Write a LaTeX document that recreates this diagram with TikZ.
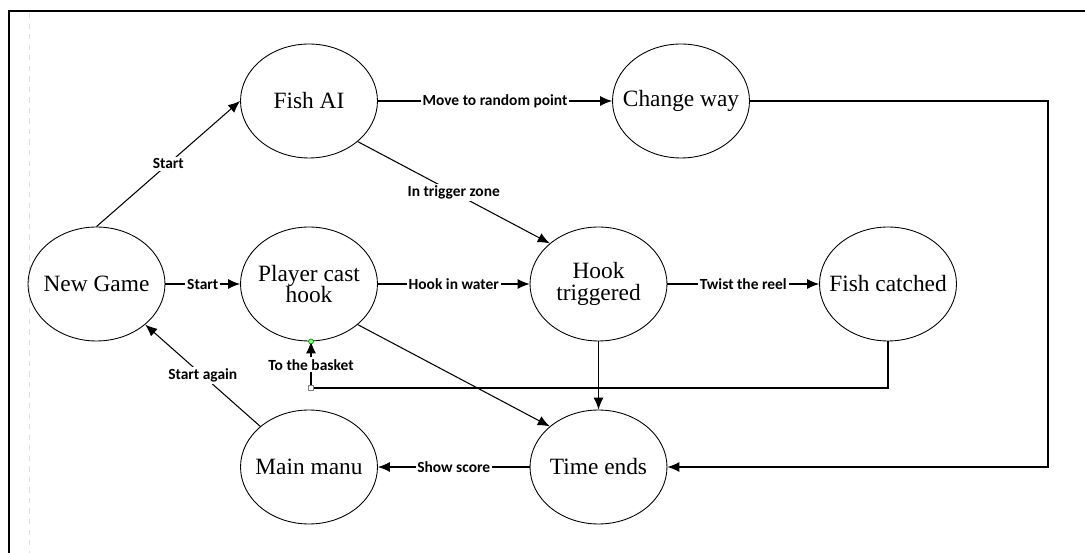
\documentclass[tikz,border=0pt]{standalone}
\usepackage{fontspec}
\setmainfont{Liberation Serif}
\newfontfamily\lblfont{Carlito}
\usetikzlibrary{shapes}
\usetikzlibrary{arrows.meta}
\tikzset{state/.style={ellipse, draw, line width=.5pt, minimum width=2.74cm, minimum height=2.28cm,
    inner xsep=-12pt, inner ysep=-6pt, align=center, font=\fontsize{13.3}{12.5}\selectfont}}
\tikzset{flow/.style={draw, line width=.6pt, -{Latex[length=2.4mm,width=2mm]}}}
\tikzset{lbl/.style={fill=white, inner sep=1pt, font=\lblfont\bfseries\fontsize{8.8}{10}\selectfont}}

\begin{document}
\begin{tikzpicture}[x=0.02cm,y=-0.02cm]
  \useasboundingbox (0,0) rectangle (1085,553);
  % frame
  \draw[line width=1.2pt] (9,553) -- (9,11) -- (1085,11);
  \draw[gray!25, dashed] (29,13) -- (29,553);
  \foreach \x/\y/\name/\lab in {
    96.5/284/{New Game}/ng,
    309/101/{Fish AI}/fai,
    681/101/{Change way}/cw,
    309/284/{Player cast\\hook}/pch,
    598.5/284/{Hook\\triggered}/ht,
    888/284/{Fish catched}/fc,
    309/467/{Main manu}/mm,
    598.5/467/{Time ends}/te%
  } {
    \node[state] (\lab) at (\x, \y) {\name};
  }
  \foreach \u/\v/\txt in {
    ng.north/fai.west/Start,
    ng.east/pch.west/Start,
    fai.east/cw.west/Move to random point,
    fai.south east/ht.north west/In trigger zone,
    pch.east/ht.west/Hook in water,
    ht.east/fc.west/Twist the reel,
    te.west/mm.east/Show score,
    mm.north west/ng.south east/Start again%
  }{
    \draw[flow] (\u) -- node[lbl] {\txt} (\v);
  }
  \draw[flow] (ht.south) -- (te.north);
  \draw[flow] (pch.south east) -- (te.north west);
  % loops back round
  \coordinate (basket) at (311,388);
  \coordinate (turn) at (1048,467);
  \draw[flow] (fc.south) |- (basket) -- node[lbl] {To the basket} (basket |- pch.south);
  \draw[flow] (cw.east) -| (turn) -- (te.east);
  \draw[gray, fill=white, line width=.4pt] (308.5,385.5) rectangle (313.5,390.5);
  \draw[green!60!black, fill=green!45, line width=.4pt] (basket |- pch.south) circle (1.4pt);
\end{tikzpicture}
\end{document}
